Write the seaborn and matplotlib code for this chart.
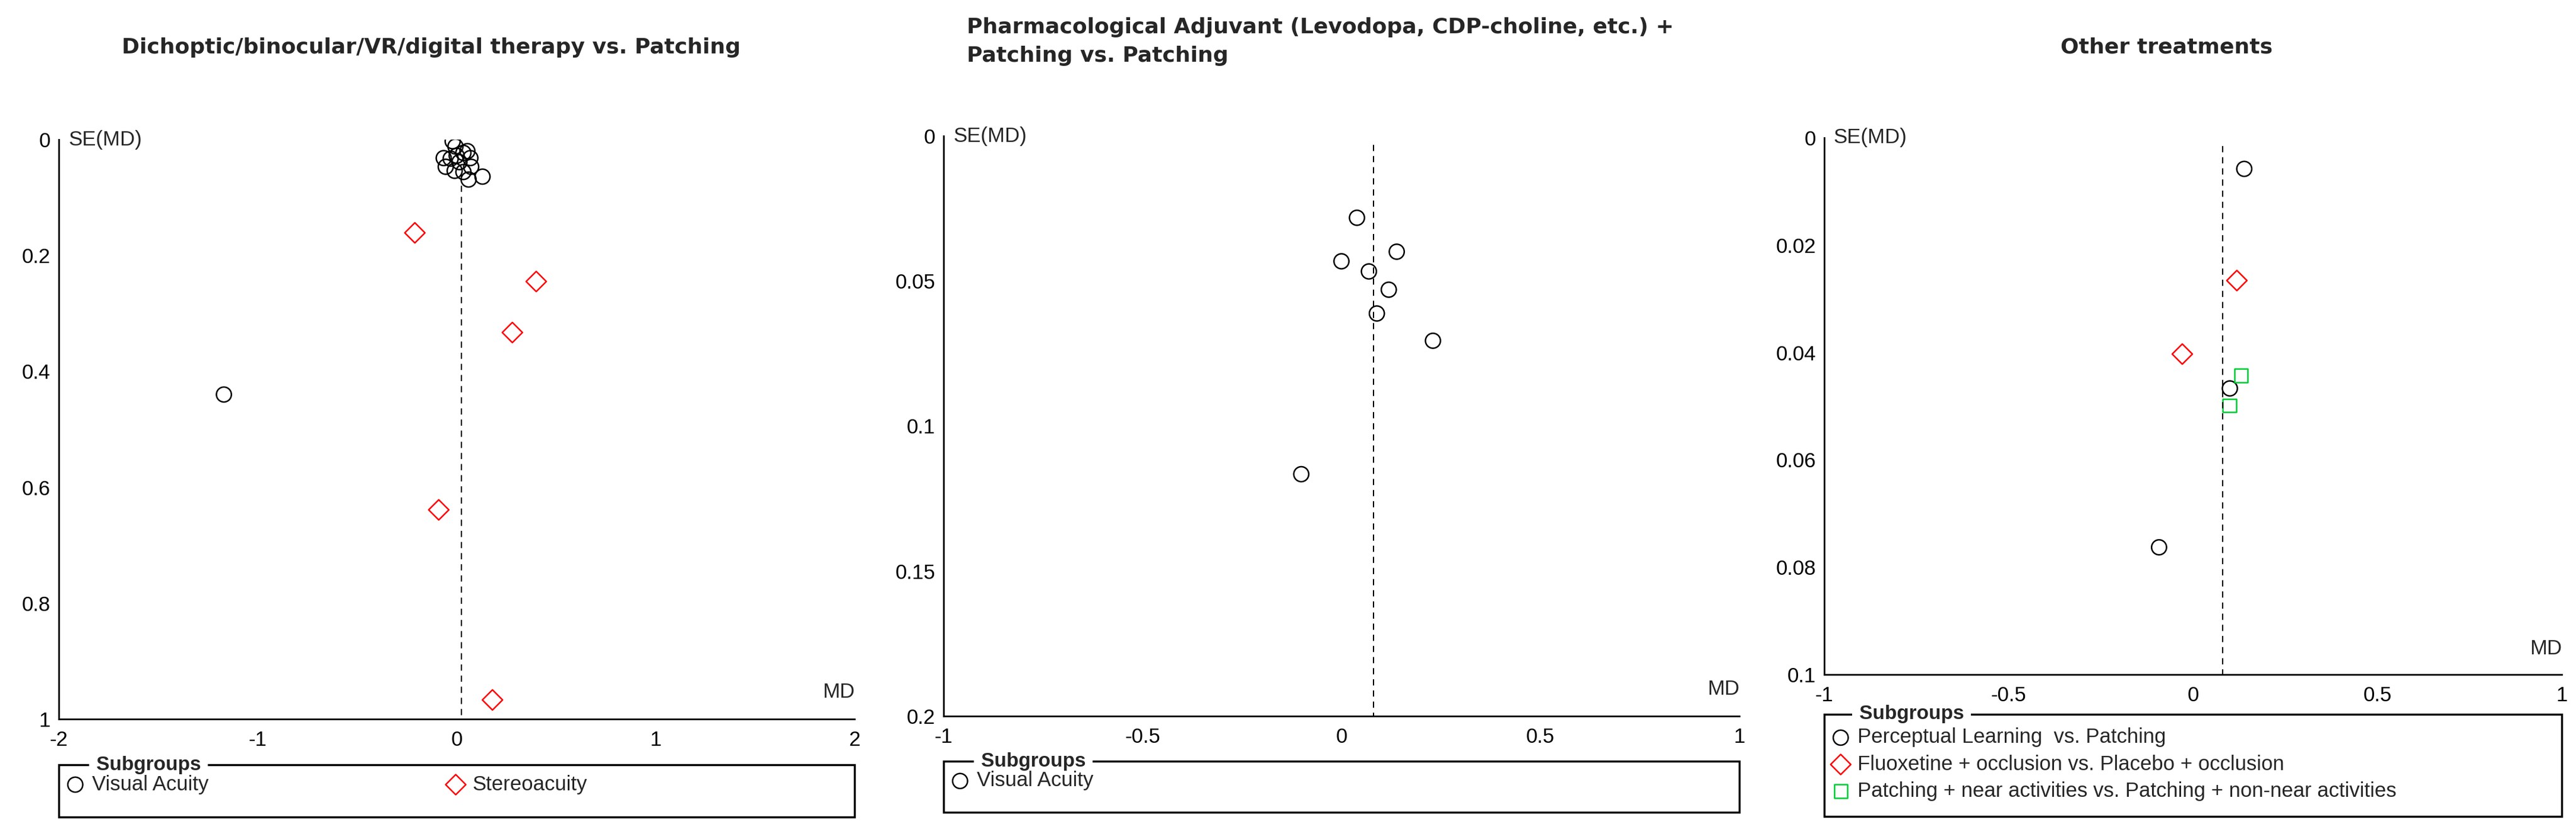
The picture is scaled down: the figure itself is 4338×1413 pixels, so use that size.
import pandas as pd
import matplotlib.pyplot as plt
import seaborn as sns
from matplotlib.patches import Rectangle

# %% data
p1_va_md = [-0.02, -0.006, -0.065, -0.03, 0.0, 0.034, 0.054, 0.069, -0.055, -0.01, 0.034, 0.073, 0.06, 0.13, 0.014, -1.17]
p1_va_se = [0.003, 0.012, 0.032, 0.033, 0.028, 0.023, 0.020, 0.032, 0.047, 0.054, 0.056, 0.047, 0.069, 0.064, 0.039, 0.44]
p1_st_md = [-0.21, 0.40, 0.28, -0.09, 0.18]
p1_st_se = [0.161, 0.245, 0.333, 0.639, 0.967]
p1_pooled = 0.025

p2_va_md = [0.039, 0.0, 0.139, 0.069, 0.119, 0.089, 0.23, -0.101]
p2_va_se = [0.0282, 0.0432, 0.0399, 0.0467, 0.053, 0.0612, 0.0706, 0.1166]
p2_pooled = 0.08

p3_pl_md = [0.139, 0.10, -0.092]
p3_pl_se = [0.0058, 0.0467, 0.0763]
p3_fl_md = [0.119, -0.029]
p3_fl_se = [0.0266, 0.0403]
p3_na_md = [0.13, 0.099]
p3_na_se = [0.0443, 0.0499]
p3_pooled = 0.08

titles = ["Dichoptic/binocular/VR/digital therapy vs. Patching",
          "Pharmacological Adjuvant (Levodopa, CDP-choline, etc.) +\nPatching vs. Patching",
          "Other treatments"]

# %% figure
sns.set_theme(style="white")
plt.rcParams['font.family'] = ['Liberation Sans', 'DejaVu Sans']

W, H = 4338, 1413
fig = plt.figure(figsize=(W / 100, H / 100), dpi=100)


def px_axes(x0, y0, x1, y1):
    return fig.add_axes([x0 / W, 1 - y1 / H, (x1 - x0) / W, (y1 - y0) / H])


mstyle = {"Visual Acuity": "o", "Stereoacuity": "D",
          "Perceptual Learning  vs. Patching": "o",
          "Fluoxetine + occlusion vs. Placebo + occlusion": "D",
          "Patching + near activities vs. Patching + non-near activities": "s"}
mcolor = {"Visual Acuity": "black", "Stereoacuity": "red",
          "Perceptual Learning  vs. Patching": "black",
          "Fluoxetine + occlusion vs. Placebo + occlusion": "red",
          "Patching + near activities vs. Patching + non-near activities": "#00cc33"}


def funnel(box, leg_box, df, xlim, xticks, ylim, yticks, ylabels, pooled, dash_top, title, title_x, title_y, ncol, colspace):
    ax = px_axes(*box)
    for g, sub in df.groupby("group", sort=False):
        m = mstyle[g]
        sns.scatterplot(data=sub, x="MD", y="SE", ax=ax, marker=m, s=330 if m == "o" else (300 if m == "D" else 260),
                        facecolor="none", edgecolor=mcolor[g], linewidth=1.8, label=g, legend=False)
    ax.plot([pooled, pooled], [dash_top, ylim[1]], ls=(0, (5, 4)), color="black", lw=1.5)
    ax.set_xlim(*xlim)
    ax.set_ylim(ylim[1], ylim[0])
    ax.set_xticks(xticks)
    ax.set_xticklabels([f"{t:g}" for t in xticks])
    ax.set_yticks(yticks)
    ax.set_yticklabels(ylabels)
    for s in ["top", "right"]:
        ax.spines[s].set_visible(False)
    for s in ["left", "bottom"]:
        ax.spines[s].set_color("black")
        ax.spines[s].set_linewidth(2)
    ax.tick_params(axis="both", direction="out", length=10, width=1.5, labelsize=25, colors="black")
    ax.tick_params(axis="y", pad=0)
    ax.set_xlabel("")
    ax.set_ylabel("")
    ax.text(0.012, 1.0, "SE(MD)", transform=ax.transAxes, ha="left", va="center", fontsize=25)
    ax.text(1.0, 0.03, "MD", transform=ax.transAxes, ha="right", va="bottom", fontsize=25)
    fig.text(title_x / W, 1 - title_y / H, title, ha="left", va="center", fontsize=26,
             fontweight="bold", family=["DejaVu Sans"], linespacing=1.5)

    lax = px_axes(*leg_box)
    lax.set_axis_off()
    lax.add_patch(Rectangle((0, 0), 1, 1, transform=lax.transAxes, fill=False, lw=2.5, ec="black", clip_on=False))
    lax.text(0.04, 1.0, " Subgroups ", transform=lax.transAxes, ha="left", va="center", fontsize=24,
             fontweight="bold", bbox=dict(fc="white", ec="none", pad=2))
    h, l = ax.get_legend_handles_labels()
    lax.legend(h, l, loc="upper left", bbox_to_anchor=(0.0, 0.93), ncol=ncol, columnspacing=colspace,
               frameon=False, fontsize=25, handletextpad=0.3,
               borderaxespad=0, labelspacing=0.35, handlelength=1.0, borderpad=0.3)


df1 = pd.DataFrame({"MD": p1_va_md + p1_st_md, "SE": p1_va_se + p1_st_se,
                    "group": ["Visual Acuity"] * len(p1_va_md) + ["Stereoacuity"] * len(p1_st_md)})
funnel((99, 235, 1439, 1211), (99, 1288, 1439, 1376), df1, (-2, 2), [-2, -1, 0, 1, 2], (0, 1),
       [0, 0.2, 0.4, 0.6, 0.8, 1], ["0", "0.2", "0.4", "0.6", "0.8", "1"], p1_pooled, 0.06,
       titles[0], 205, 80, 2, 11.5)

df2 = pd.DataFrame({"MD": p2_va_md, "SE": p2_va_se, "group": ["Visual Acuity"] * len(p2_va_md)})
funnel((1589, 229, 2929, 1206), (1589, 1282, 2929, 1368), df2, (-1, 1), [-1, -0.5, 0, 0.5, 1], (0, 0.2),
       [0, 0.05, 0.1, 0.15, 0.2], ["0", "0.05", "0.1", "0.15", "0.2"], p2_pooled, 0.003,
       titles[1], 1628, 70, 1, 2)

df3 = pd.DataFrame({"MD": p3_pl_md + p3_fl_md + p3_na_md, "SE": p3_pl_se + p3_fl_se + p3_na_se,
                    "group": ["Perceptual Learning  vs. Patching"] * 3
                    + ["Fluoxetine + occlusion vs. Placebo + occlusion"] * 2
                    + ["Patching + near activities vs. Patching + non-near activities"] * 2})
funnel((3072, 232, 4314, 1136), (3072, 1203, 4314, 1375), df3, (-1, 1), [-1, -0.5, 0, 0.5, 1], (0, 0.1),
       [0, 0.02, 0.04, 0.06, 0.08, 0.1], ["0", "0.02", "0.04", "0.06", "0.08", "0.1"], p3_pooled, 0.0015,
       titles[2], 3470, 80, 1, 2)

fig.savefig("out.png", dpi=100, facecolor="white")
